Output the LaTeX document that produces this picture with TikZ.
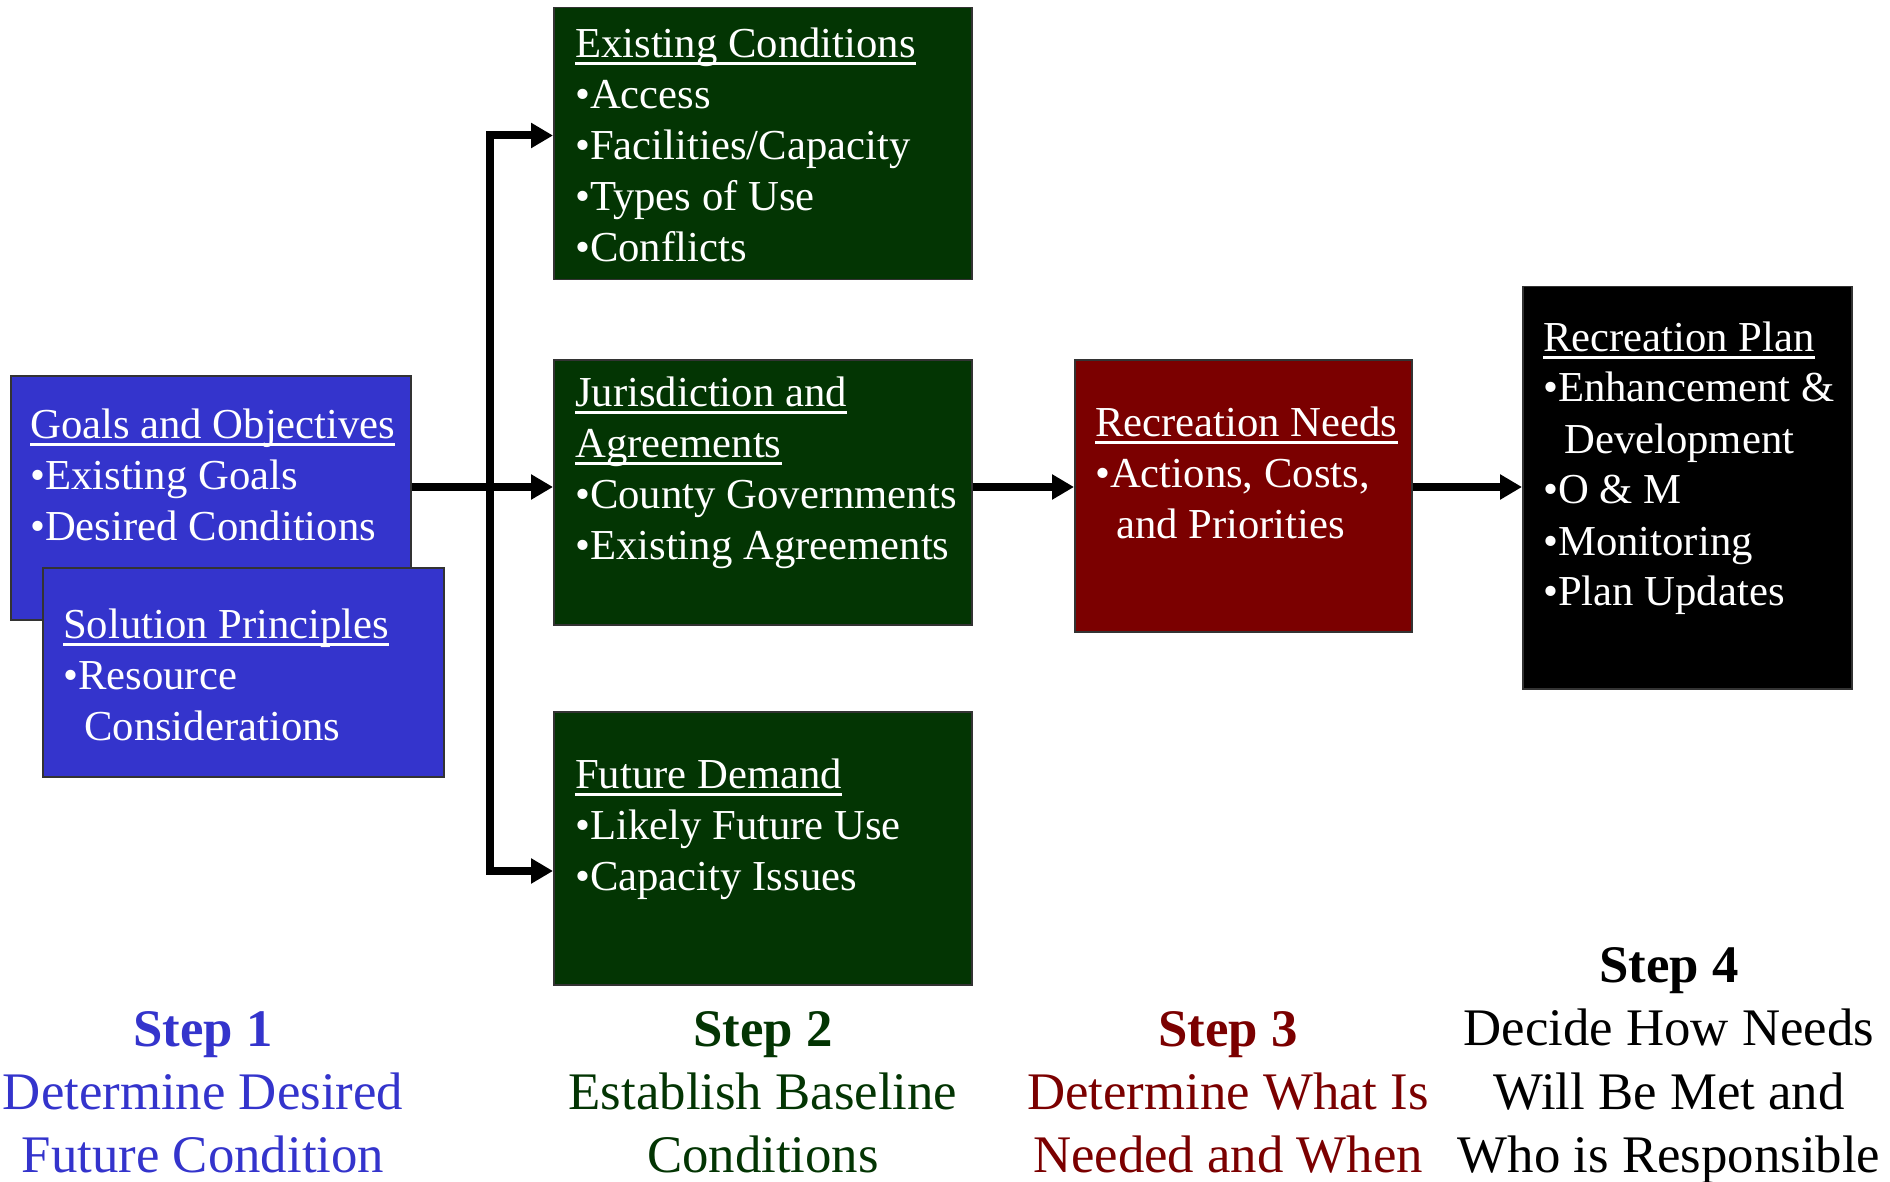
\documentclass[tikz,border=0pt]{standalone}
\usepackage{fontspec}
\setmainfont{Liberation Serif}
\usetikzlibrary{arrows.meta}
\definecolor{bluebox}{RGB}{52,52,204}
\definecolor{greenbox}{RGB}{3,53,3}
\definecolor{redbox}{RGB}{123,0,0}
\newcommand\myul[1]{\setbox0\hbox{#1}\rlap{\rule[-7.5pt]{\wd0}{3pt}}\box0}
\newcommand\LinesL[1]{\vtop{\halign{##\hfil\cr#1\crcr}}}
\newcommand\LinesC[1]{\vtop{\halign{\hfil##\hfil\cr#1\crcr}}}
\tikzset{
  box/.style={draw=black!80, line width=1.5pt, anchor=north west, inner sep=0pt},
  boxtext/.style={text=white, inner sep=0pt, anchor=base west, font=\fontsize{42.7}{51}\selectfont},
  steptext/.style={inner sep=0pt, anchor=base, font=\fontsize{52.8}{63.3}\selectfont},
  conn/.style={draw=black, line width=8pt, -{Triangle[length=22pt,width=24pt]}}
}
\begin{document}
\begin{tikzpicture}[x=1pt,y=-1pt]
\useasboundingbox (0,0) rectangle (1890,1182);
% boxes
\node[box, fill=bluebox, minimum width=400pt, minimum height=244pt] (goals) at (10,375) {};
\node[box, fill=bluebox, minimum width=401pt, minimum height=209pt] (sol) at (42,567) {};
\node[box, fill=greenbox, minimum width=418pt, minimum height=272pt] (ex) at (553,7) {};
\node[box, fill=greenbox, minimum width=418pt, minimum height=265pt] (jur) at (553,359) {};
\node[box, fill=greenbox, minimum width=418pt, minimum height=273pt] (fut) at (553,711) {};
\node[box, fill=redbox, minimum width=337pt, minimum height=272pt] (needs) at (1074,359) {};
\node[box, fill=black, minimum width=329pt, minimum height=402pt] (plan) at (1522,286) {};
% box texts
\node[boxtext] (goalsT) at (30,438) {\LinesL{\myul{Goals and Objectives}\cr •Existing Goals\cr •Desired Conditions}};
\node[boxtext] (solT) at (63,638) {\LinesL{\myul{Solution Principles}\cr •Resource\cr \hskip21pt Considerations}};
\node[boxtext] (exT) at (575,58) {\LinesL{\myul{Existing Conditions}\cr •Access\cr •Facilities/Capacity\cr •Types of Use\cr •Conflicts}};
\node[boxtext] (jurT) at (575,406) {\LinesL{\myul{Jurisdiction and}\cr \myul{Agreements}\cr •County Governments\cr •Existing Agreements}};
\node[boxtext] (futT) at (575,788) {\LinesL{\myul{Future Demand}\cr •Likely Future Use\cr •Capacity Issues}};
\node[boxtext] (needsT) at (1095,436) {\LinesL{\myul{Recreation Needs}\cr •Actions, Costs,\cr \hskip21pt and Priorities}};
\node[boxtext] (planT) at (1543,351) {\LinesL{\myul{Recreation Plan}\cr •Enhancement \&\cr \hskip21pt Development\cr •O \& M\cr •Monitoring\cr •Plan Updates}};
% connectors
\coordinate (split) at (490,487);
\coordinate (trtop) at (490,135.5);
\coordinate (trbot) at (490,871);
\draw[conn] (goals.east |- split) -- (jur.west |- split);
\draw[conn] (split) -- (trtop) -- (ex.west |- trtop);
\draw[conn] (split) -- (trbot) -- (fut.west |- trbot);
\draw[conn] (jur.east |- split) -- (needs.west |- split);
\draw[conn] (needs.east |- split) -- (plan.west |- split);
% step labels
\node[steptext, text=bluebox] (s1) at (203,1046) {\LinesC{\textbf{Step 1}\cr Determine Desired\cr Future Condition}};
\node[steptext, text=greenbox] (s2) at (763,1046) {\LinesC{\textbf{Step 2}\cr Establish Baseline\cr Conditions}};
\node[steptext, text=redbox] (s3) at (1228,1046) {\LinesC{\textbf{Step 3}\cr Determine What Is\cr Needed and When}};
\node[steptext, text=black] (s4) at (1669,982.5) {\LinesC{\textbf{Step 4}\cr Decide How Needs\cr Will Be Met and\cr Who is Responsible}};
\end{tikzpicture}
\end{document}
